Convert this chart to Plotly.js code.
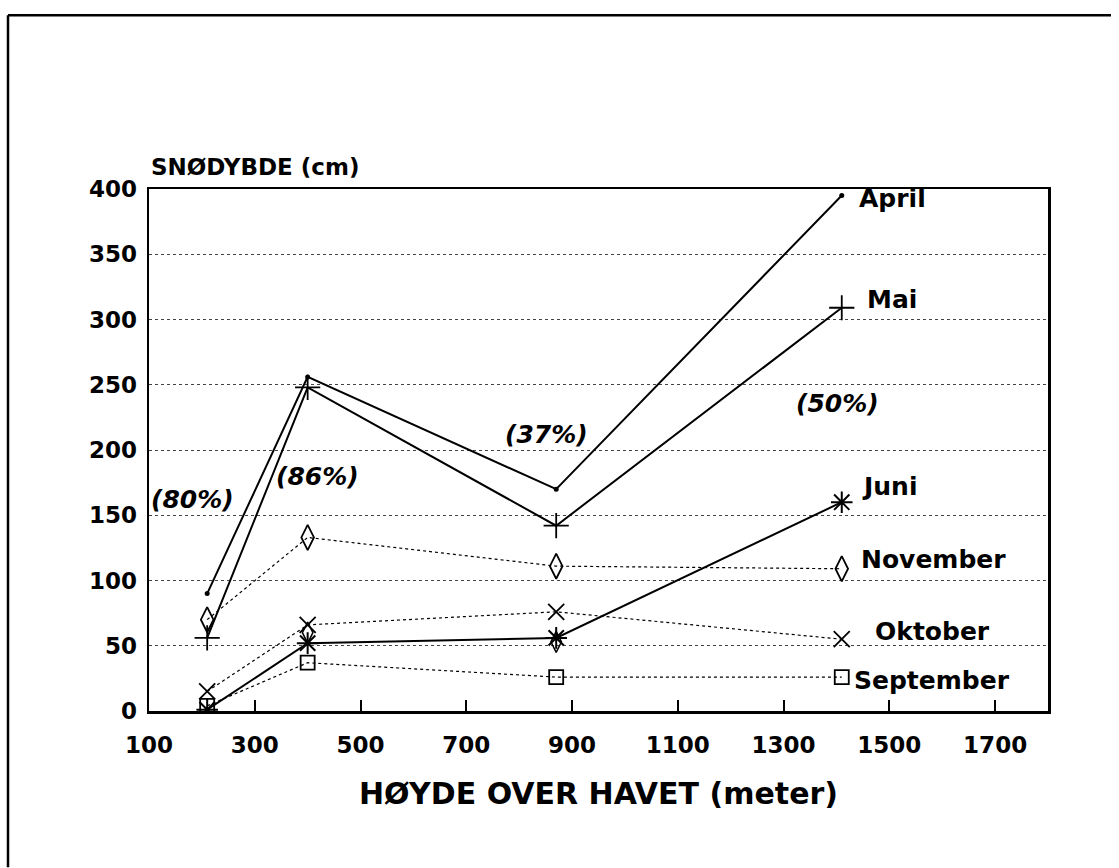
<!DOCTYPE html>
<html>
<head>
<meta charset="utf-8">
<script src="https://cdn.plot.ly/plotly-3.0.1.min.js"></script>
<style>
  html, body { margin: 0; padding: 0; background: #fff; }
  #chart { width: 1119px; height: 868px; }
</style>
</head>
<body>
<div id="chart"></div>
<script>
// Elevation of the stations (metres above sea level)
const hoyde = [210, 400, 870, 1410];

// Snow depth (cm) per month
const april     = [90, 256, 170, 395];
const mai       = [56, 248, 142, 309];
const juni      = [1, 52, 56, 160];
const november  = [70, 133, 111, 109];
const oktober   = [15, 66, 76, 55];
const september = [4, 37, 26, 26];
// extra unlabeled diamond marks seen under other markers
const ekstraX = [400, 870];
const ekstraY = [60, 53];

// Series labels at the right end
const seriesNames = ['April', 'Mai', 'Juni', 'November', 'Oktober', 'September'];
const labelX = [1438, 1453, 1445, 1442, 1470, 1430];
const labelY = [393, 315, 172, 116, 61, 23];

// Percentage notes
const pctText = ['(80%)', '(86%)', '(37%)', '(50%)'];
const pctX = [183, 419, 851, 1402];
const pctY = [162, 180, 212, 236];

// Axis ticks
const xTicks = [100, 300, 500, 700, 900, 1100, 1300, 1500, 1700];
const yTicks = [0, 50, 100, 150, 200, 250, 300, 350, 400];

const FONT = 'DejaVu Sans, Arial, sans-serif';
const solid = {color: '#000', width: 2};
const dotted = {color: '#000', width: 1.2, dash: 'dot'};

const traces = [
  {x: hoyde, y: april, mode: 'lines+markers', line: solid,
   marker: {symbol: 'circle', size: 5, color: '#000'}},
  {x: hoyde, y: mai, mode: 'lines+markers', line: solid,
   marker: {symbol: 'cross-thin-open', size: 18, line: {color: '#000', width: 1.8}}},
  {x: hoyde, y: juni, mode: 'lines+markers', line: solid,
   marker: {symbol: 'asterisk-open', size: 18, line: {color: '#000', width: 2}}},
  {x: hoyde, y: november, mode: 'lines+markers', line: dotted,
   marker: {symbol: 'diamond-tall-open', size: 18, color: '#000', line: {color: '#000', width: 1.8}}},
  {x: hoyde, y: oktober, mode: 'lines+markers', line: dotted,
   marker: {symbol: 'x-thin-open', size: 16, line: {color: '#000', width: 1.8}}},
  {x: hoyde, y: september, mode: 'lines+markers', line: dotted,
   marker: {symbol: 'square-open', size: 14, color: '#000', line: {color: '#000', width: 1.8}}},
  {x: ekstraX, y: ekstraY, mode: 'markers',
   marker: {symbol: 'diamond-tall-open', size: 15, color: '#000', line: {color: '#000', width: 1.5}}}
];

const annotations = [];
seriesNames.forEach((n, i) => annotations.push({
  x: labelX[i], y: labelY[i], xref: 'x', yref: 'y', text: n, showarrow: false,
  xanchor: 'left', yanchor: 'middle',
  font: {family: FONT, size: 25, color: '#000', weight: 700}
}));
pctText.forEach((t, i) => annotations.push({
  x: pctX[i], y: pctY[i], xref: 'x', yref: 'y', text: '<i>' + t + '</i>', showarrow: false,
  xanchor: 'center', yanchor: 'middle',
  font: {family: FONT, size: 25, color: '#000', weight: 700}
}));
annotations.push({
  x: 0, y: 1, xref: 'paper', yref: 'paper', xshift: 0, yshift: 22,
  text: 'SNØDYBDE (cm)', showarrow: false, xanchor: 'left', yanchor: 'middle',
  font: {family: FONT, size: 23, color: '#000', weight: 700}
});

const layout = {
  width: 1119, height: 868,
  margin: {l: 149, r: 71, t: 189, b: 156.5, pad: 0},
  paper_bgcolor: '#fff', plot_bgcolor: '#fff',
  showlegend: false,
  xaxis: {
    range: [100, 1800], tickvals: xTicks, ticktext: xTicks.map(String),
    showline: true, linecolor: '#000', linewidth: 2.5, mirror: true,
    ticks: 'inside', ticklen: 11, tickwidth: 2, tickcolor: '#000',
    ticklabelstandoff: 12,
    showgrid: false, zeroline: false,
    tickfont: {family: FONT, size: 23, color: '#000', weight: 700},
    title: {text: 'HØYDE OVER HAVET (meter)', standoff: 26,
            font: {family: FONT, size: 30, color: '#000', weight: 700}}
  },
  yaxis: {
    range: [0, 400], tickvals: yTicks, ticktext: yTicks.map(String),
    showline: true, linecolor: '#000', linewidth: 2.5, mirror: true,
    ticks: '', ticklabelstandoff: 5,
    showgrid: true, gridcolor: '#444', gridwidth: 1, griddash: 'dot',
    zeroline: false,
    tickfont: {family: FONT, size: 23, color: '#000', weight: 700}
  },
  annotations: annotations,
  shapes: [
    {type: 'line', xref: 'paper', yref: 'paper', x0: -141/899, x1: (1111 - 149)/899,
     y0: 1 + (189 - 15) / 522.5, y1: 1 + (189 - 15) / 522.5, line: {color: '#000', width: 2.5}},
    {type: 'line', xref: 'paper', yref: 'paper', x0: -141/899, x1: -141/899,
     y0: 1 + (189 - 15) / 522.5, y1: -(868 - 711.5) / 522.5, line: {color: '#000', width: 2.5}}
  ]
};

Plotly.newPlot('chart', traces, layout, {staticPlot: true, displayModeBar: false});
</script>
</body>
</html>
